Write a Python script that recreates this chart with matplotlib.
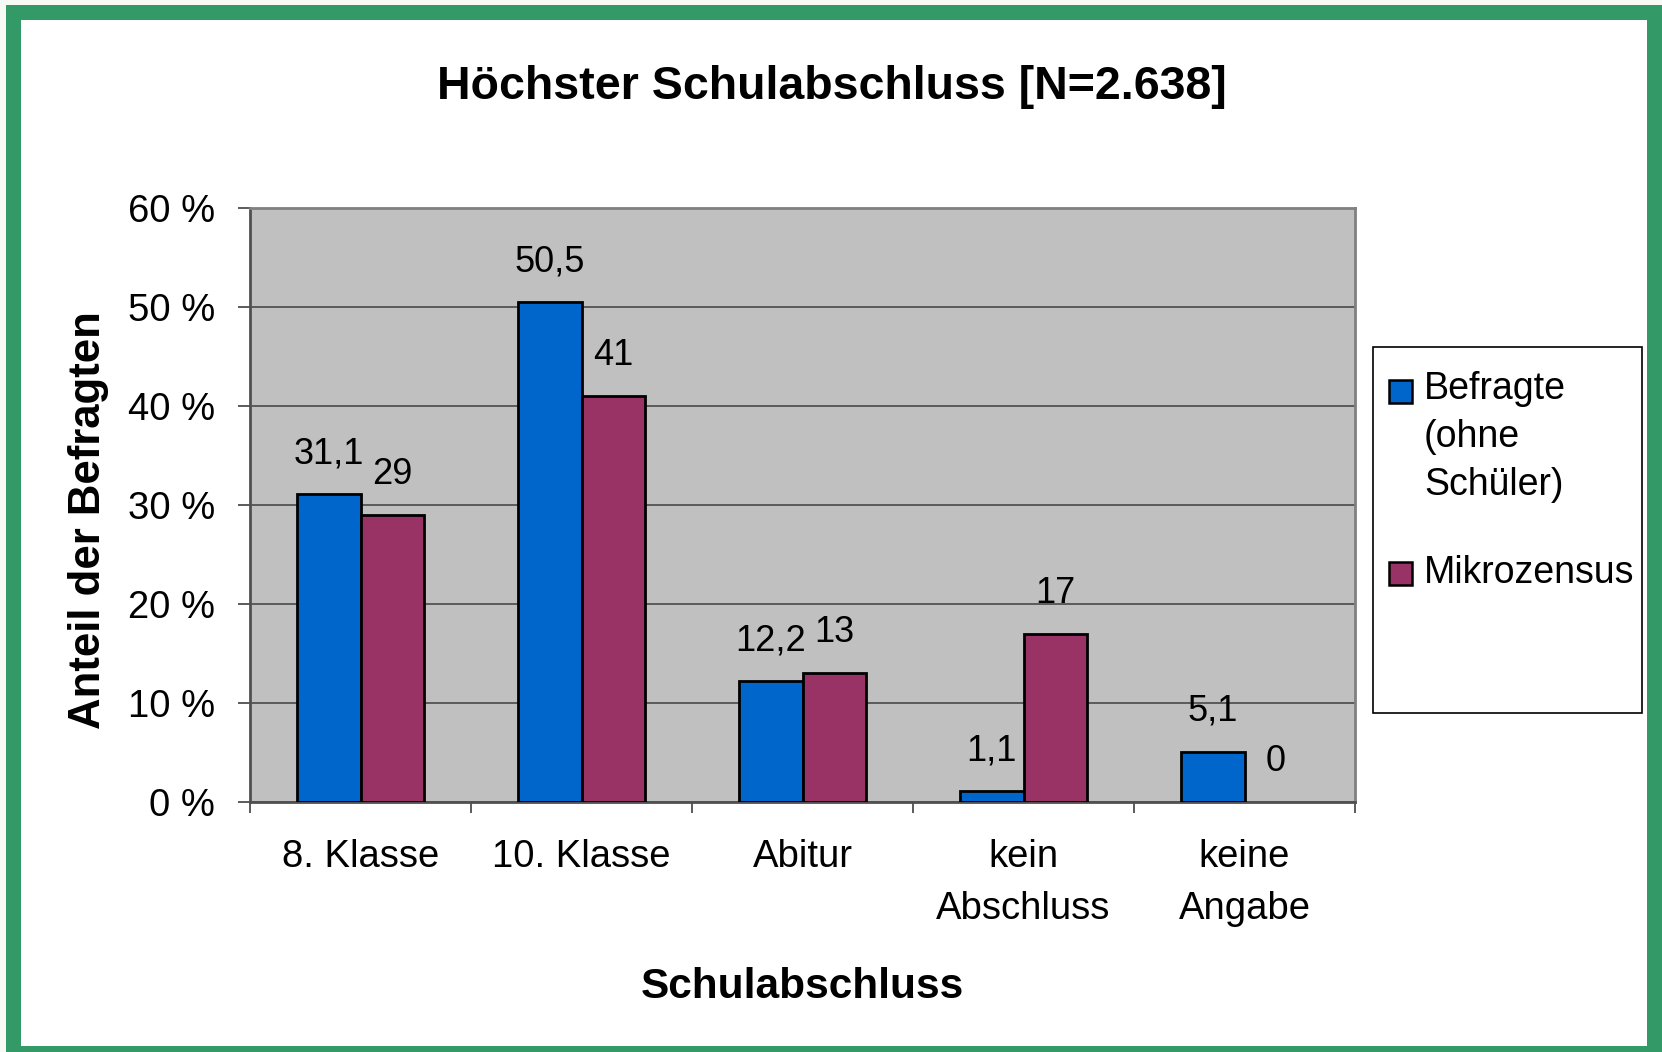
import matplotlib
matplotlib.use("Agg")
import matplotlib.pyplot as plt
from matplotlib.patches import Rectangle
import numpy as np

# ---- data ----
categories = ["8. Klasse", "10. Klasse", "Abitur", "kein\nAbschluss", "keine\nAngabe"]
series_names = ["Befragte\n(ohne\nSchüler)", "Mikrozensus"]
befragte = [31.1, 50.5, 12.2, 1.1, 5.1]
mikrozensus = [29, 41, 13, 17, 0]
befragte_labels = ["31,1", "50,5", "12,2", "1,1", "5,1"]
mikrozensus_labels = ["29", "41", "13", "17", "0"]
yticks = [0, 10, 20, 30, 40, 50, 60]
ytick_labels = ["0 %", "10 %", "20 %", "30 %", "40 %", "50 %", "60 %"]
title = "Höchster Schulabschluss [N=2.638]"
xlabel = "Schulabschluss"
ylabel = "Anteil der Befragten"
colors = ["#0066CC", "#993366"]

W, H = 1662, 1052
plt.rcParams['font.family'] = ['Liberation Sans', 'DejaVu Sans']

fig = plt.figure(figsize=(W / 100, H / 100), dpi=100, facecolor="#f7f9f4")

def fx(px):
    return px / W

def fy(py):
    return 1 - py / H

# frame: green border and white inner area
fig.patches.append(Rectangle((fx(6), 0), 1 - fx(6), fy(5), transform=fig.transFigure,
                             facecolor="#339966", edgecolor="none", zorder=-10))
fig.patches.append(Rectangle((fx(21), fy(1046)), fx(1647) - fx(21), fy(20) - fy(1046),
                             transform=fig.transFigure, facecolor="white",
                             edgecolor="none", zorder=-9))

ax_l, ax_r, ax_t, ax_b = 250, 1355, 208, 802
ax = fig.add_axes([fx(ax_l), fy(ax_b), fx(ax_r) - fx(ax_l), fy(ax_t) - fy(ax_b)])
ax.set_facecolor("#C0C0C0")

x = np.arange(len(categories))
bw = 1 / 3.5
bars1 = ax.bar(x - bw / 2, befragte, bw, color=colors[0], edgecolor="black",
               linewidth=2.0, zorder=3, label=series_names[0])
bars2 = ax.bar(x + bw / 2, mikrozensus, bw, color=colors[1], edgecolor="black",
               linewidth=2.0, zorder=3, label=series_names[1])
for b in list(bars1) + list(bars2):
    if b.get_height() == 0:
        b.set_visible(False)

for bars, labels in ((bars1, befragte_labels), (bars2, mikrozensus_labels)):
    for b, lab in zip(bars, labels):
        ax.annotate(lab, (b.get_x() + b.get_width() / 2, b.get_height()),
                    xytext=(0, 31 * 0.72), textcoords="offset points",
                    ha="center", va="baseline", fontsize=26, color="black",
                    zorder=5)

ax.set_xlim(-0.5, len(categories) - 0.5)
ax.set_ylim(0, 60)
ax.set_yticks(yticks)
ax.set_yticklabels(ytick_labels, fontsize=27.5)
ax.yaxis.grid(True, color="#404040", linewidth=1.1, zorder=1)
ax.set_axisbelow(True)

ax.set_xticks(x)
ax.set_xticklabels(categories, fontsize=27.5, linespacing=1.57)
ax.set_xticks(np.arange(len(categories) + 1) - 0.5, minor=True)
ax.tick_params(axis="x", which="major", length=0, pad=37 * 0.72)
ax.tick_params(axis="x", which="minor", length=11 * 0.72, width=1.2,
               color="#404040", direction="out")
ax.tick_params(axis="y", which="major", length=12 * 0.72, width=1.2,
               color="#404040", direction="out", pad=23 * 0.72)

for side in ["top", "right"]:
    ax.spines[side].set_color("#808080")
    ax.spines[side].set_linewidth(2.0)
for side in ["left", "bottom"]:
    ax.spines[side].set_color("#505050")
    ax.spines[side].set_linewidth(2.0)

ax.set_xlabel(xlabel, fontsize=30.5, fontweight="bold", va="baseline")
ax.xaxis.set_label_coords(0.5, (ax_b - 998) / (ax_b - ax_t))
ax.set_ylabel(ylabel, fontsize=31.5, fontweight="bold", va="baseline")
ax.yaxis.set_label_coords((100 - ax_l) / (ax_r - ax_l), (ax_b - 520) / (ax_b - ax_t))

fig.suptitle(title, x=fx(832), y=fy(99), va="baseline", ha="center",
             fontsize=33.5, fontweight="bold")

# legend box
fig.patches.append(Rectangle((fx(1373), fy(713)), fx(1642) - fx(1373), fy(347) - fy(713),
                             transform=fig.transFigure, facecolor="white",
                             edgecolor="black", linewidth=1.2, zorder=2))
# (label, colour, square top px, last-line baseline px)
leg_items = [(series_names[0], colors[0], 380, 495), (series_names[1], colors[1], 562, 583)]
for name, col, sq_top, base in leg_items:
    fig.patches.append(Rectangle((fx(1389), fy(sq_top + 23)), fx(1412) - fx(1389),
                                 fy(sq_top) - fy(sq_top + 23), transform=fig.transFigure,
                                 facecolor=col, edgecolor="black", linewidth=1.8, zorder=3))
    fig.text(fx(1424), fy(base), name, ha="left", va="baseline", fontsize=27,
             linespacing=1.43, zorder=4)

fig.savefig("out.png", dpi=100, facecolor=fig.get_facecolor())
